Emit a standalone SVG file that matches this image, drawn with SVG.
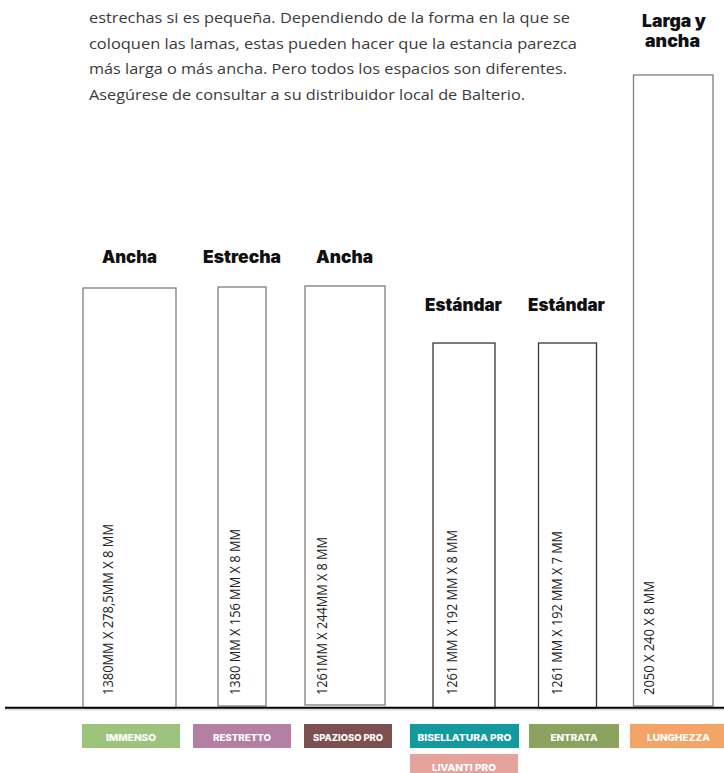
<svg xmlns="http://www.w3.org/2000/svg" width="724" height="773" viewBox="0 0 724 773">
<style>
.body{font-family:"Open Sans","Noto Sans",sans-serif;font-size:15px;fill:#3a3a3a}
.head{font-family:Inter,"Noto Sans",sans-serif;font-weight:900;font-size:17px;fill:#111;text-anchor:middle}
.dim{font-family:"Open Sans","Noto Sans",sans-serif;font-size:14.5px;fill:#222}
.bar{fill:#fff;stroke:#857a7a;stroke-width:1.3}
.bar.dark{stroke:#3d3232}
.lab{font-family:Inter,"Noto Sans",sans-serif;font-weight:800;font-size:9.3px;fill:#fff;text-anchor:middle}
</style>
<rect width="724" height="773" fill="#fff"/>
<g id="intro">
<text class="body" x="89" y="23" textLength="481" lengthAdjust="spacingAndGlyphs">estrechas si es pequeña. Dependiendo de la forma en la que se</text>
<text class="body" x="89" y="48.7" textLength="488" lengthAdjust="spacingAndGlyphs">coloquen las lamas, estas pueden hacer que la estancia parezca</text>
<text class="body" x="89" y="74.3" textLength="478" lengthAdjust="spacingAndGlyphs">más larga o más ancha. Pero todos los espacios son diferentes.</text>
<text class="body" x="89" y="100" textLength="436" lengthAdjust="spacingAndGlyphs">Asegúrese de consultar a su distribuidor local de Balterio.</text>
</g>
<g id="immenso">
<text class="head" x="129.5" y="262.5" textLength="55" lengthAdjust="spacingAndGlyphs">Ancha</text>
<rect class="bar" x="83" y="288" width="93" height="420"/>
<text class="dim" transform="translate(113,695) rotate(-90)" textLength="171" lengthAdjust="spacingAndGlyphs">1380MM X 278,5MM X 8 MM</text>
</g>
<g id="restretto">
<text class="head" x="242" y="262.5" textLength="78" lengthAdjust="spacingAndGlyphs">Estrecha</text>
<rect class="bar" x="218" y="287" width="48" height="419"/>
<text class="dim" transform="translate(240,695) rotate(-90)" textLength="166" lengthAdjust="spacingAndGlyphs">1380 MM X 156 MM X 8 MM</text>
</g>
<g id="spazioso">
<text class="head" x="344.5" y="262.5" textLength="57" lengthAdjust="spacingAndGlyphs">Ancha</text>
<rect class="bar" x="305" y="286" width="80" height="419"/>
<text class="dim" transform="translate(327,695) rotate(-90)" textLength="158" lengthAdjust="spacingAndGlyphs">1261MM X 244MM X 8 MM</text>
</g>
<g id="bisellatura">
<text class="head" x="463.5" y="310.5" textLength="77" lengthAdjust="spacingAndGlyphs">Estándar</text>
<rect class="bar dark" x="433" y="343" width="62" height="365"/>
<text class="dim" transform="translate(457,695) rotate(-90)" textLength="165" lengthAdjust="spacingAndGlyphs">1261 MM X 192 MM X 8 MM</text>
</g>
<g id="entrata">
<text class="head" x="566.5" y="310.5" textLength="77" lengthAdjust="spacingAndGlyphs">Estándar</text>
<rect class="bar dark" x="538.5" y="343" width="58" height="365"/>
<text class="dim" transform="translate(562,695) rotate(-90)" textLength="164" lengthAdjust="spacingAndGlyphs">1261 MM X 192 MM X 7 MM</text>
</g>
<g id="lunghezza">
<text class="head" x="674" y="26.5" textLength="64" lengthAdjust="spacingAndGlyphs">Larga y</text>
<text class="head" x="672.5" y="46.5" textLength="55" lengthAdjust="spacingAndGlyphs">ancha</text>
<rect class="bar" x="633.5" y="75" width="79.5" height="631"/>
<text class="dim" transform="translate(654,695) rotate(-90)" textLength="114" lengthAdjust="spacingAndGlyphs">2050 X 240 X 8 MM</text>
</g>
<g id="connectors">
<line x1="5" y1="709.8" x2="724" y2="709.8" stroke="#dcdcdc" stroke-width="1.5"/>
<line x1="5" y1="707.7" x2="724" y2="707.7" stroke="#000" stroke-width="2"/>
</g>
<g id="legend">
<g id="tag-immenso"><rect x="82" y="724" width="98" height="24" fill="#9dc47c"/><text class="lab" x="131" y="741" textLength="50" lengthAdjust="spacingAndGlyphs">IMMENSO</text></g>
<g id="tag-restretto"><rect x="193" y="724" width="98" height="24" fill="#b47fa3"/><text class="lab" x="242" y="741" textLength="58" lengthAdjust="spacingAndGlyphs">RESTRETTO</text></g>
<g id="tag-spazioso"><rect x="304" y="724" width="88" height="24" fill="#7d4f4f"/><text class="lab" x="348" y="741" textLength="70" lengthAdjust="spacingAndGlyphs">SPAZIOSO PRO</text></g>
<g id="tag-bisellatura"><rect x="410" y="724" width="109" height="24" fill="#139a9f"/><text class="lab" x="464.5" y="741" textLength="94" lengthAdjust="spacingAndGlyphs">BISELLATURA PRO</text></g>
<g id="tag-entrata"><rect x="529" y="724" width="90" height="24" fill="#8ba35e"/><text class="lab" x="574" y="741" textLength="47" lengthAdjust="spacingAndGlyphs">ENTRATA</text></g>
<g id="tag-lunghezza"><rect x="630" y="724" width="94" height="24" fill="#f4a466"/><text class="lab" x="678.5" y="741" textLength="63" lengthAdjust="spacingAndGlyphs">LUNGHEZZA</text></g>
<g id="tag-livanti"><rect x="410" y="754" width="108" height="19" fill="#e6a29d"/><text class="lab" x="464" y="771" textLength="64" lengthAdjust="spacingAndGlyphs">LIVANTI PRO</text></g>
</g>
</svg>
